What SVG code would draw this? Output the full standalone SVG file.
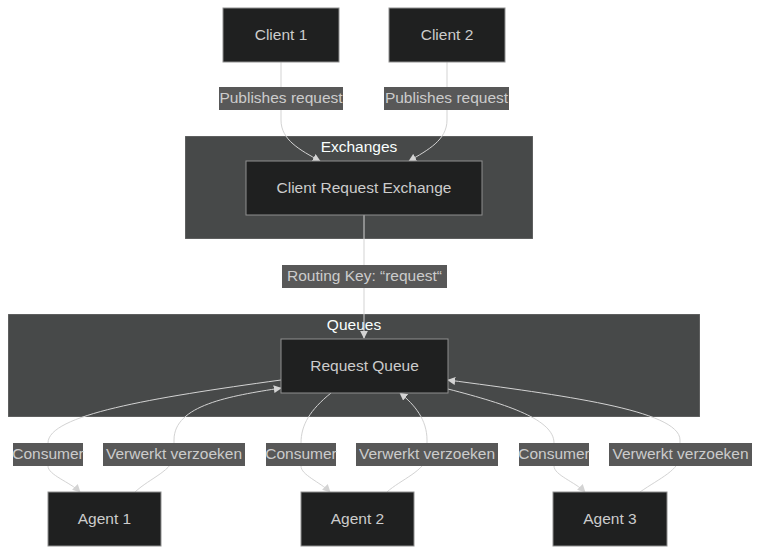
<svg xmlns="http://www.w3.org/2000/svg" width="760" height="554" viewBox="0 0 760 554">
<style>
text{font-family:"Liberation Sans",Arial,sans-serif;font-size:15.5px;text-anchor:middle;dominant-baseline:central}
.cl{fill:#474949;stroke:rgba(255,255,255,0.25);stroke-width:1}
.ct{fill:#f9fffe}
.n rect{fill:#1f2020;stroke:#8f8f8f;stroke-width:1}
.n text{fill:#cccccc}
.lb rect{fill:#585858}
.lb text{fill:#cccccc}
.e path{fill:none;stroke:#d3d3d3;stroke-width:1}
</style>
<defs>
<marker id="ar" viewBox="0 0 10 10" refX="9" refY="5" markerWidth="8" markerHeight="8" markerUnits="userSpaceOnUse" orient="auto">
<path d="M0,0 L10,5 L0,10 z" fill="#d3d3d3"/>
</marker>
</defs>
<rect width="760" height="554" fill="#ffffff"/>
<g id="cluster-exchanges"><rect class="cl" x="185" y="136" width="348" height="103"/><text class="ct" x="359" y="146.5">Exchanges</text></g>
<g id="cluster-queues"><rect class="cl" x="8" y="314" width="692" height="103"/><text class="ct" x="354" y="324.5">Queues</text></g>
<g id="edges" class="e">
<path d="M281,62 L281,120 C281,140 300,150 320,161" marker-end="url(#ar)"/>
<path d="M447,62 L447,120 C447,140 428,150 409,161" marker-end="url(#ar)"/>
<path d="M364,215 L364,338" marker-end="url(#ar)"/>
<path d="M281,380 C150,398 48,415 48,443 L48,466 C48,475 70,482 80,492" marker-end="url(#ar)"/>
<path d="M135,492 C150,478 174,470 174,455 L174,440 C174,405 230,396 281,388" marker-end="url(#ar)"/>
<path d="M331,393 C310,410 301,425 301,443 L301,466 C301,475 320,482 330,492" marker-end="url(#ar)"/>
<path d="M387,492 C400,480 427,470 427,455 L427,440 C427,420 415,405 400,393" marker-end="url(#ar)"/>
<path d="M448,389 C510,405 554,420 554,443 L554,466 C554,475 575,482 585,492" marker-end="url(#ar)"/>
<path d="M640,492 C660,478 680,470 680,455 L680,440 C680,410 560,395 448,380" marker-end="url(#ar)"/>
</g>
<g id="edge-labels" class="lb">
<g><rect x="219" y="87" width="124" height="23"/><text x="281" y="97.5">Publishes request</text></g>
<g><rect x="384" y="87" width="125" height="23"/><text x="446.5" y="97.5">Publishes request</text></g>
<g><rect x="282" y="265" width="165" height="23"/><text x="364.5" y="275.5">Routing Key: “request“</text></g>
<g><rect x="13" y="443" width="70" height="23"/><text x="48" y="453.5">Consumer</text></g>
<g><rect x="103" y="443" width="142" height="23"/><text x="174" y="453.5">Verwerkt verzoeken</text></g>
<g><rect x="266" y="443" width="70" height="23"/><text x="301" y="453.5">Consumer</text></g>
<g><rect x="356" y="443" width="142" height="23"/><text x="427" y="453.5">Verwerkt verzoeken</text></g>
<g><rect x="519" y="443" width="70" height="23"/><text x="554" y="453.5">Consumer</text></g>
<g><rect x="609" y="443" width="143" height="23"/><text x="680.5" y="453.5">Verwerkt verzoeken</text></g>
</g>
<g id="client1" class="n"><rect x="223" y="8" width="116" height="54"/><text x="281" y="34">Client 1</text></g>
<g id="client2" class="n"><rect x="389" y="8" width="116" height="54"/><text x="447" y="34">Client 2</text></g>
<g id="exchange" class="n"><rect x="246" y="161" width="236" height="54"/><text x="364" y="187">Client Request Exchange</text></g>
<g id="queue" class="n"><rect x="281" y="339" width="167" height="54"/><text x="364.5" y="365">Request Queue</text></g>
<g id="agent1" class="n"><rect x="48" y="492" width="113" height="54"/><text x="104.5" y="518">Agent 1</text></g>
<g id="agent2" class="n"><rect x="301" y="492" width="113" height="54"/><text x="357.5" y="518">Agent 2</text></g>
<g id="agent3" class="n"><rect x="553" y="492" width="114" height="54"/><text x="610" y="518">Agent 3</text></g>
</svg>
